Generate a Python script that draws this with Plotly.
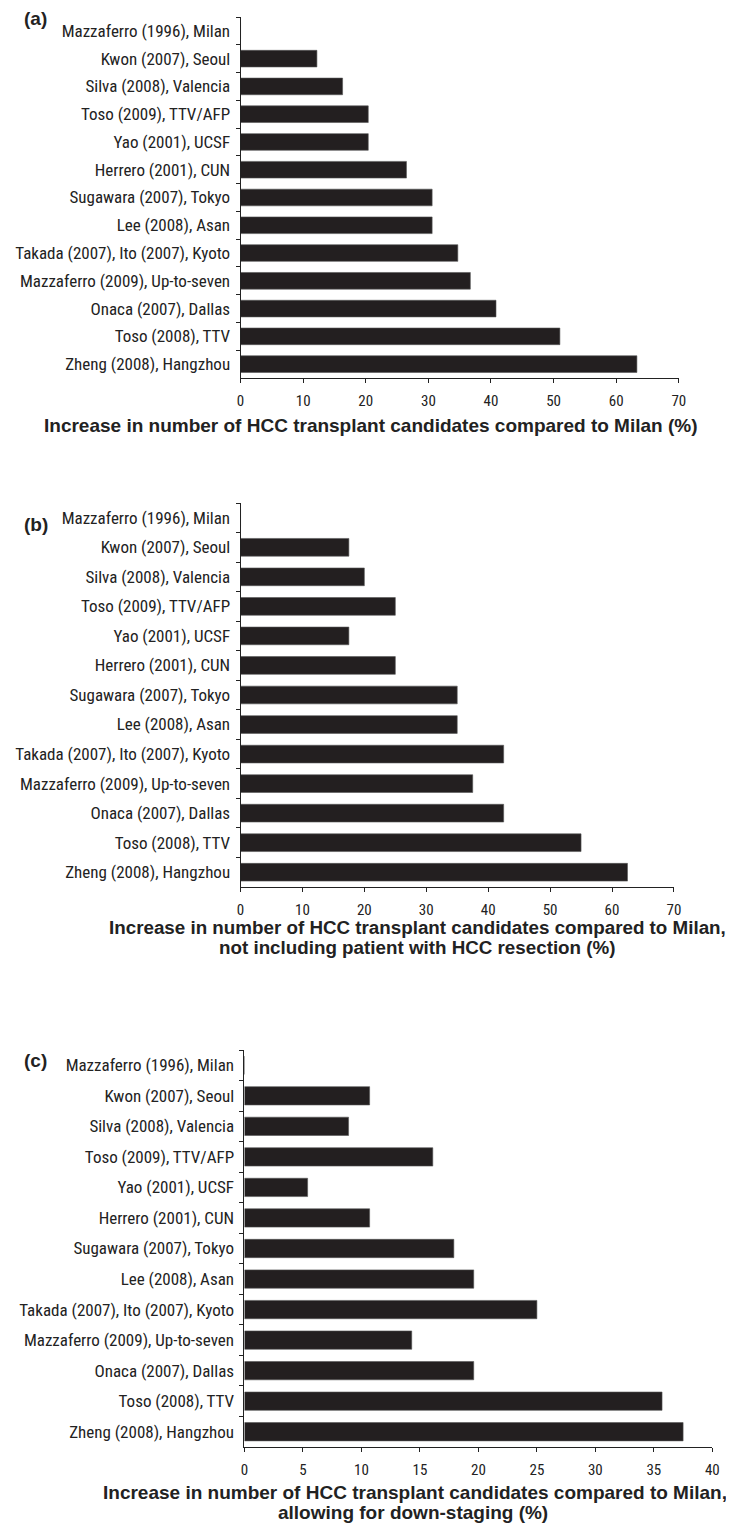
import plotly.graph_objects as go

categories = [
    "Mazzaferro (1996), Milan",
    "Kwon (2007), Seoul",
    "Silva (2008), Valencia",
    "Toso (2009), TTV/AFP",
    "Yao (2001), UCSF",
    "Herrero (2001), CUN",
    "Sugawara (2007), Tokyo",
    "Lee (2008), Asan",
    "Takada (2007), Ito (2007), Kyoto",
    "Mazzaferro (2009), Up-to-seven",
    "Onaca (2007), Dallas",
    "Toso (2008), TTV",
    "Zheng (2008), Hangzhou",
]

values_a = [0, 12.2, 16.3, 20.4, 20.4, 26.5, 30.6, 30.6, 34.7, 36.7, 40.8, 51.0, 63.3]
values_b = [0, 17.5, 20.0, 25.0, 17.5, 25.0, 35.0, 35.0, 42.5, 37.5, 42.5, 55.0, 62.5]
values_c = [0, 10.7, 8.9, 16.1, 5.4, 10.7, 17.9, 19.6, 25.0, 14.3, 19.6, 35.7, 37.5]

ticks_ab = [0, 10, 20, 30, 40, 50, 60, 70]
ticks_c = [0, 5, 10, 15, 20, 25, 30, 35, 40]

title_a = ["Increase in number of HCC transplant candidates compared to Milan (%)"]
title_b = ["Increase in number of HCC transplant candidates compared to Milan,",
           "not including patient with HCC resection (%)"]
title_c = ["Increase in number of HCC transplant candidates compared to Milan,",
           "allowing for down-staging (%)"]

W, H = 734, 1525
NARROW = "Liberation Sans Narrow, Arial Narrow, Roboto Condensed, Liberation Sans, Arial, sans-serif"
BOLD = "Liberation Sans, Arial, sans-serif"
BAR = "#231f20"
INK = "#222222"

# pixel geometry of each panel: (x_left, x_right, y_top, y_bottom)
panels = [
    (232, 677, 9, 370, values_a, ticks_ab, 70),
    (232, 672, 495, 879, values_b, ticks_ab, 70),
    (236, 711, 1042, 1439, values_c, ticks_c, 40),
]

fig = go.Figure()

for i, (xl, xr, yt, yb, vals, tks, xmax) in enumerate(panels, start=1):
    xa = "x" if i == 1 else f"x{i}"
    ya = "y" if i == 1 else f"y{i}"
    fig.add_trace(go.Bar(
        x=vals, y=categories, orientation="h",
        marker=dict(color=BAR, line=dict(color="#555555", width=0.6)),
        width=0.6, xaxis=xa, yaxis=ya, showlegend=False,
        hoverinfo="x+y",
    ))
    xkey = "xaxis" if i == 1 else f"xaxis{i}"
    ykey = "yaxis" if i == 1 else f"yaxis{i}"
    fig.update_layout({
        xkey: dict(
            domain=[xl / W, xr / W], anchor=ya, range=[0, xmax],
            tickvals=tks, ticks="outside", ticklen=4, tickwidth=1, tickcolor=INK,
            showline=True, linecolor=INK, linewidth=1, showgrid=False, zeroline=False,
            tickfont=dict(family=NARROW, size=15, color=INK),
            ticklabelstandoff=5,
        ),
        ykey: dict(
            domain=[1 - yb / H, 1 - yt / H], anchor=xa,
            categoryorder="array", categoryarray=categories, autorange="reversed",
            ticks="outside", ticklen=4, tickwidth=1, tickcolor=INK, tickson="boundaries",
            showline=True, linecolor=INK, linewidth=1, showgrid=False,
            tickfont=dict(family=NARROW, size=17, color=INK),
            ticklabelstandoff=6,
        ),
    })

annotations = []
for lab, y in (("(a)", 10), ("(b)", 517), ("(c)", 1052)):
    annotations.append(dict(
        text=f"<b>{lab}</b>", x=10 / W, y=1 - y / H, xref="paper", yref="paper",
        xanchor="left", yanchor="middle", showarrow=False,
        font=dict(family=BOLD, size=19, color=INK),
    ))

# title lines: (text, centre x, centre y, font size)
title_lines = [
    (title_a[0], 364, 417, 19),
    (title_b[0], 412, 919, 18.8),
    (title_b[1], 412, 939, 18.8),
    (title_c[0], 409, 1484, 19),
    (title_c[1], 407, 1504, 19),
]
for line, cx, cy, fs in title_lines:
    annotations.append(dict(
        text=f"<b>{line}</b>", x=cx / W, y=1 - cy / H,
        xref="paper", yref="paper", xanchor="center", yanchor="middle",
        align="center", showarrow=False,
        font=dict(family=BOLD, size=fs, color=INK),
    ))

fig.update_layout(
    width=W, height=H, margin=dict(l=0, r=0, t=0, b=0),
    paper_bgcolor="white", plot_bgcolor="white",
    annotations=annotations, bargap=0.4,
)

fig.write_html("out.html")
